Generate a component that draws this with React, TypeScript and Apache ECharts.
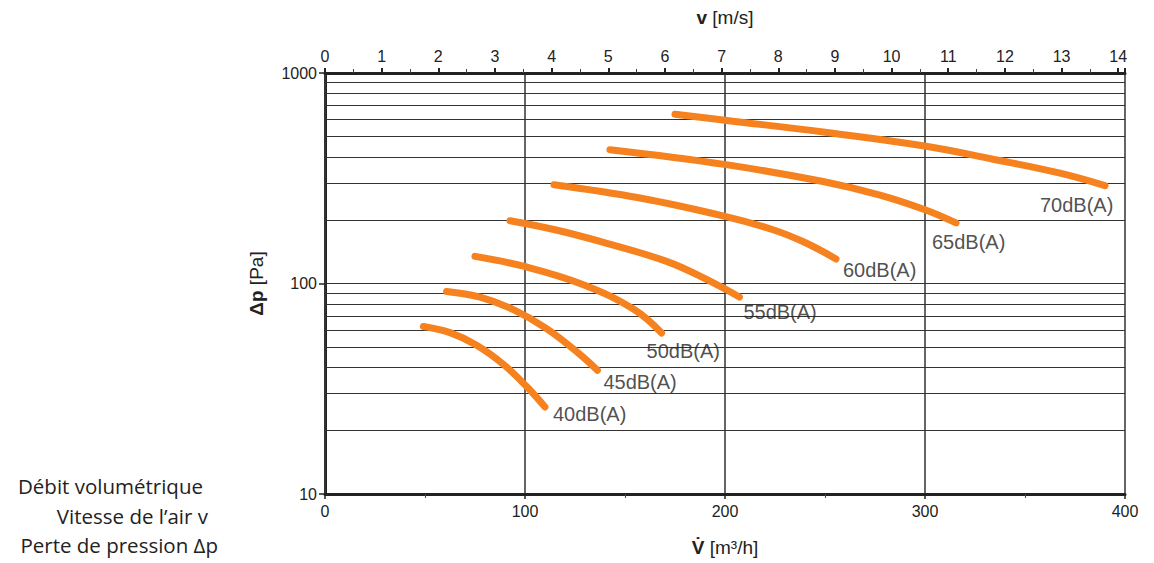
import React, { useEffect, useRef } from "react";
import * as echarts from "echarts";

// Volume flow V̇ [m³/h] vs pressure loss Δp [Pa] per noise level
const curve40 = [[49.2, 62.5], [62.5, 58.4], [75.8, 50.9], [89.2, 41.3], [100.8, 32.4], [110, 25.9]];
const curve45 = [[60.8, 91.7], [77.5, 86.2], [94.2, 75.2], [110.8, 61.1], [127.5, 46.0], [136.2, 38.7]];
const curve50 = [[75, 134.5], [100.8, 119.8], [129.2, 98.7], [154.2, 75.6], [168.3, 58.2]];
const curve55 = [[92.5, 198.7], [115, 180.1], [137.5, 158.5], [170.8, 127.4], [190, 105.4], [207.2, 86.3]];
const curve60 = [[114.5, 294.7], [157.5, 254.8], [200, 208.4], [224, 180.1], [240, 156.6], [255.5, 130.8]];
const curve65 = [[142.5, 432], [200.5, 367], [249, 305], [277.5, 263], [300, 224], [315.5, 194]];
const curve70 = [[175, 637.5], [200, 596.8], [251, 521.6], [300.5, 449], [334, 389.5], [367.5, 334.2], [390, 291.5]];

const curves = [curve40, curve45, curve50, curve55, curve60, curve65, curve70];
const curveNames = ["40dB(A)", "45dB(A)", "50dB(A)", "55dB(A)", "60dB(A)", "65dB(A)", "70dB(A)"];

const minorGridValues = [20, 30, 40, 50, 60, 70, 80, 90, 200, 300, 400, 500, 600, 700, 800, 900];
const legendLines = ["Débit volumétrique", "Vitesse de l\u2019air v", "Perte de pression \u0394p"];

// label placement (styling, pixel offsets from curve end)
const labelOffsets = [[8, 7], [6, 12], [-15, 18], [4, 15], [7, 11], [-24, 19], [-65, 19]];
const legendRight = [203, 208, 218];
const legendBaseline = [496, 526, 555];

const ORANGE = "#F5821F";
const DARK = "#222";
const TICK_FONT = "'Liberation Sans Narrow', 'Liberation Sans', Arial, sans-serif";
const NAME_FONT = "'Liberation Sans', Arial, sans-serif";

export default function App() {
  const ref = useRef<HTMLDivElement>(null);
  useEffect(() => {
    if (!ref.current) return;
    document.body.style.margin = "0";
    const chart = echarts.init(ref.current, undefined, { renderer: "svg" });

    const curveSeries = curves.map((c, i) => ({
      type: "line",
      name: curveNames[i],
      xAxisIndex: 0,
      yAxisIndex: 0,
      data: c,
      smooth: 0.4,
      showSymbol: false,
      symbol: "none",
      z: 5,
      silent: true,
      lineStyle: { color: ORANGE, width: 7, cap: "round", join: "round" },
    }));

    const labelSeries = {
      type: "scatter",
      xAxisIndex: 0,
      yAxisIndex: 0,
      symbolSize: 0,
      silent: true,
      z: 6,
      data: curves.map((c, i) => ({
        name: curveNames[i],
        value: c[c.length - 1],
        label: {
          show: true,
          position: "right",
          distance: 0,
          offset: labelOffsets[i],
          formatter: curveNames[i],
          color: DARK,
          fontSize: 20,
          fontFamily: NAME_FONT,
        },
      })),
    };

    const gridSeries = {
      type: "line",
      xAxisIndex: 0,
      yAxisIndex: 0,
      data: [],
      silent: true,
      z: 1,
      markLine: {
        silent: true,
        symbol: "none",
        label: { show: false },
        lineStyle: { color: "#333", width: 1.2, type: "solid" },
        data: minorGridValues.map((v) => ({ yAxis: v })),
      },
    };

    const nameStyle = {
      color: DARK,
      fontSize: 19,
      fontFamily: NAME_FONT,
      rich: { b: { fontWeight: "bold", fontSize: 19, fontFamily: NAME_FONT, color: DARK } },
    };

    const option = {
      animation: false,
      grid: { left: 325, right: 29, top: 73, bottom: 69, containLabel: false },
      xAxis: [
        {
          type: "value",
          position: "bottom",
          min: 0,
          max: 400,
          interval: 100,
          name: "{b|V\u0307} [m\u00b3/h]",
          nameLocation: "middle",
          nameGap: 44,
          nameTextStyle: nameStyle,
          axisLine: { show: true, lineStyle: { color: DARK, width: 3 } },
          axisTick: { show: true, inside: false, length: 5, lineStyle: { color: DARK, width: 1.5 } },
          minorTick: { show: true, splitNumber: 2, length: 4, lineStyle: { color: "#444", width: 1 } },
          axisLabel: { color: DARK, fontSize: 16, fontFamily: TICK_FONT, margin: 9 },
          splitLine: { show: true, lineStyle: { color: "#333", width: 1.5 } },
        },
        {
          type: "value",
          position: "top",
          min: 0,
          max: 14.12,
          interval: 1,
          name: "{b|v} [m/s]",
          nameLocation: "middle",
          nameGap: 46,
          nameTextStyle: nameStyle,
          axisLine: { show: true, lineStyle: { color: DARK, width: 3 } },
          axisTick: { show: true, inside: false, length: 5, lineStyle: { color: DARK, width: 2 } },
          minorTick: { show: true, splitNumber: 2, length: 4, lineStyle: { color: "#444", width: 1 } },
          axisLabel: {
            color: DARK,
            fontSize: 16,
            fontFamily: TICK_FONT,
            margin: 9,
            showMaxLabel: false,
            formatter: (v: number) => (Number.isInteger(v) ? String(v) : ""),
          },
          splitLine: { show: false },
        },
      ],
      yAxis: [
        {
          type: "log",
          logBase: 10,
          position: "left",
          min: 10,
          max: 1000,
          name: "{b|\u0394p} [Pa]",
          nameLocation: "middle",
          nameRotate: 90,
          nameGap: 59,
          nameTextStyle: nameStyle,
          axisLine: { show: true, lineStyle: { color: DARK, width: 3 } },
          axisTick: { show: true, inside: false, length: 6, lineStyle: { color: DARK, width: 1.5 } },
          axisLabel: {
            color: DARK,
            fontSize: 16,
            fontFamily: TICK_FONT,
            margin: 8,
            formatter: (v: number) => String(Math.round(v)),
          },
          splitLine: { show: true, lineStyle: { color: "#333", width: 1.2 } },
        },
        {
          type: "log",
          logBase: 10,
          position: "right",
          min: 10,
          max: 1000,
          axisLine: { show: true, lineStyle: { color: "#333", width: 2 } },
          axisTick: { show: false },
          axisLabel: { show: false },
          splitLine: { show: false },
        },
      ],
      graphic: legendLines.map((t, i) => ({
        type: "text",
        x: legendRight[i],
        y: legendBaseline[i],
        silent: true,
        style: {
          text: t,
          fill: DARK,
          font: "20.5px 'Open Sans', 'Noto Sans', sans-serif",
          textAlign: "right",
          textVerticalAlign: "bottom",
        },
      })),
      series: [gridSeries, ...curveSeries, labelSeries],
    };

    chart.setOption(option as any);
    return () => chart.dispose();
  }, []);

  return <div ref={ref} style={{ width: 1154, height: 563 }} />;
}
